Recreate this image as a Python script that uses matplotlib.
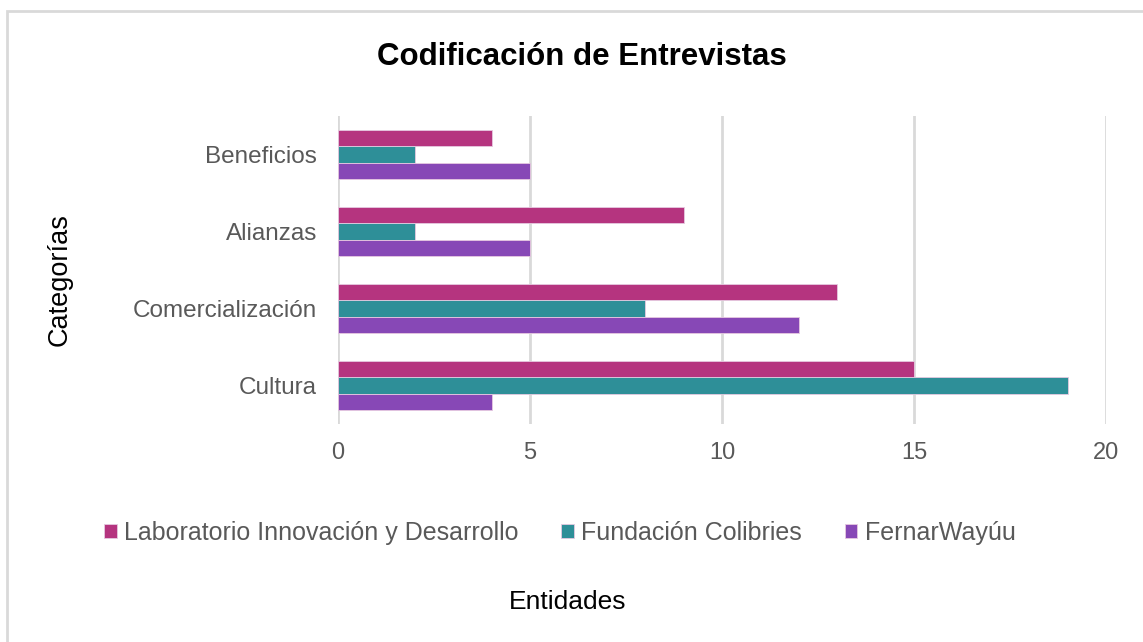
import numpy as np
import matplotlib.pyplot as plt
from matplotlib.patches import Rectangle
from matplotlib import font_manager

categorias = ['Cultura', 'Comercialización', 'Alianzas', 'Beneficios']
entidades = ['Laboratorio Innovación y Desarrollo', 'Fundación Colibries', 'FernarWayúu']
laboratorio = [15, 13, 9, 4]
fundacion = [19, 8, 2, 2]
fernar = [4, 12, 5, 5]
colores = ['#B5347F', '#2E8F98', '#8748B6']

names = {f.name for f in font_manager.fontManager.ttflist}
narrow = 'Liberation Sans Narrow' if 'Liberation Sans Narrow' in names else 'Liberation Sans'
plt.rcParams['font.family'] = ['Liberation Sans', 'DejaVu Sans']

fig = plt.figure(figsize=(11.43, 6.42), dpi=100)
ax = fig.add_axes([338 / 1143, 1 - 424 / 642, 768 / 1143, 308 / 642])

# marco gris del grafico
fig.patches.append(Rectangle((7 / 1143, -0.1), 1.2, 1 - 11 / 642 + 0.1,
                             transform=fig.transFigure, fill=False,
                             edgecolor='#D9D9D9', linewidth=2))

y = np.arange(len(categorias))
h = 0.21
series = [laboratorio, fundacion, fernar]
for i, (vals, c, lab) in enumerate(zip(series, colores, entidades)):
    ax.barh(y + (1 - i) * h, vals, height=h, color=c, edgecolor='#E6C9E0',
            linewidth=0.6, label=lab, zorder=3)

ax.set_xlim(0, 20)
ax.set_ylim(-0.5, 3.5)
ax.set_xticks([0, 5, 10, 15, 20])
ax.set_yticks(y)
ax.set_yticklabels(categorias)
ax.grid(axis='x', color='#D9D9D9', linewidth=2, zorder=0)
ax.tick_params(length=0)
ax.tick_params(axis='x', pad=13, labelsize=17, labelcolor='#595959')
ax.tick_params(axis='y', pad=15, labelsize=17.5, labelcolor='#595959')
for lbl in ax.get_xticklabels():
    lbl.set_family(narrow)
for s in ax.spines.values():
    s.set_visible(False)

fig.text(582 / 1143, 1 - 57 / 642, 'Codificación de Entrevistas', ha='center', va='center',
         fontsize=22.5, fontweight='bold', family=narrow, color='black')
fig.text(60 / 1143, 1 - 280 / 642, 'Categorías', ha='center', va='center', rotation=90,
         fontsize=19.5, family=narrow, color='black')
fig.text(568 / 1143, 1 - 602 / 642, 'Entidades', ha='center', va='center',
         fontsize=19, family=narrow, color='black')

leg = fig.legend(loc='center', bbox_to_anchor=(560 / 1143, 1 - 533 / 642), ncol=3,
                 frameon=False, fontsize=18, handlelength=0.5, handleheight=0.5,
                 handletextpad=0.3, columnspacing=1.7, labelcolor='#595959')

fig.savefig('out.png', dpi=100)
